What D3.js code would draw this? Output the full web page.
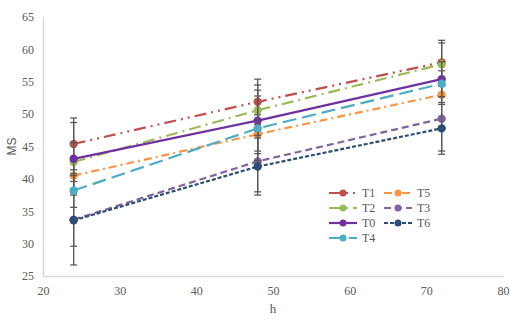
<!DOCTYPE html>
<html>
<head>
<meta charset="utf-8">
<script src="https://cdn.jsdelivr.net/npm/d3@7"></script>
<style>
  body { margin: 0; background: #fff; }
  svg { display: block; }
</style>
</head>
<body>
<div id="chart"></div>
<script>
const hours = [24, 48, 72];
const seriesNames = ["T1", "T5", "T2", "T3", "T0", "T6", "T4"];
const T1 = [45.4, 51.9, 58.0];
const T5 = [40.5, 46.9, 53.0];
const T2 = [42.6, 50.6, 57.7];
const T3 = [33.7, 42.7, 49.3];
const T0 = [43.1, 49.0, 55.4];
const T6 = [33.6, 41.9, 47.8];
const T4 = [38.2, 47.8, 54.7];
const T1err = [4.0, 3.5, 3.4];
const T5err = [2.0, 3.0, 1.5];
const T2err = [3.0, 3.9, 3.3];
const T3err = [4.1, 4.7, 5.0];
const T0err = [5.6, 4.7, 2.7];
const T6err = [6.9, 4.4, 4.0];
const T4err = [2.6, 5.0, 2.0];
const xTicks = [20, 30, 40, 50, 60, 70, 80];
const yTicks = [25, 30, 35, 40, 45, 50, 55, 60, 65];

const values = {T1, T5, T2, T3, T0, T6, T4};
const errs = {T1: T1err, T5: T5err, T2: T2err, T3: T3err, T0: T0err, T6: T6err, T4: T4err};
const colors = {T1: "#C0504D", T5: "#F79646", T2: "#9BBB59", T3: "#8064A2", T0: "#7030A0", T6: "#2C4D75", T4: "#4BACC6"};
const dashes = {T1: "12,5,2,5,2,5", T5: "8,4,2,4", T2: "12,5,2,5", T3: "7,4", T0: null, T6: "4,2", T4: "14,6"};

const width = 525, height = 322;
const margin = {top: 17, right: 22, bottom: 46, left: 43};

const svg = d3.select("#chart").append("svg")
    .attr("width", width)
    .attr("height", height);

const x = d3.scaleLinear().domain([20, 80]).range([margin.left, width - margin.right]);
const y = d3.scaleLinear().domain([25, 65]).range([height - margin.bottom, margin.top]);

const serif = "'Liberation Serif', 'Times New Roman', serif";

// axes
svg.append("g")
    .attr("transform", `translate(0,${y(25)})`)
    .call(d3.axisBottom(x).tickValues(xTicks).tickSize(0).tickPadding(10))
    .call(g => g.select(".domain").attr("stroke", "#D9D9D9").attr("stroke-width", 1.5))
    .call(g => g.selectAll("text").attr("fill", "#595959").style("font", `12px ${serif}`));

svg.append("g")
    .attr("transform", `translate(${x(20)},0)`)
    .call(d3.axisLeft(y).tickValues(yTicks).tickSize(0).tickPadding(9))
    .call(g => g.select(".domain").attr("stroke", "#D9D9D9").attr("stroke-width", 1.5))
    .call(g => g.selectAll("text").attr("fill", "#595959").style("font", `12px ${serif}`));

svg.append("text")
    .attr("transform", `translate(16,${y(45)}) rotate(-90)`)
    .attr("text-anchor", "middle")
    .attr("fill", "#595959")
    .style("font", "12px 'Liberation Sans', Arial, sans-serif")
    .text("MS");

svg.append("text")
    .attr("x", x(50))
    .attr("y", 313)
    .attr("text-anchor", "middle")
    .attr("fill", "#595959")
    .style("font", `13px ${serif}`)
    .text("h");

const line = d3.line().x(d => x(d[0])).y(d => y(d[1]));

seriesNames.forEach(name => {
    const pts = hours.map((h, i) => [h, values[name][i], errs[name][i]]);
    const g = svg.append("g");
    g.append("path")
        .attr("d", line(pts))
        .attr("fill", "none")
        .attr("stroke", colors[name])
        .attr("stroke-width", 2.2)
        .attr("stroke-dasharray", dashes[name]);
    pts.forEach(p => {
        g.append("line")
            .attr("x1", x(p[0])).attr("x2", x(p[0]))
            .attr("y1", y(p[1] - p[2])).attr("y2", y(p[1] + p[2]))
            .attr("stroke", "#595959").attr("stroke-width", 1.3);
        [p[1] - p[2], p[1] + p[2]].forEach(v => {
            g.append("line")
                .attr("x1", x(p[0]) - 3.5).attr("x2", x(p[0]) + 3.5)
                .attr("y1", y(v)).attr("y2", y(v))
                .attr("stroke", "#595959").attr("stroke-width", 1.3);
        });
    });
    g.selectAll("circle").data(pts).join("circle")
        .attr("cx", d => x(d[0]))
        .attr("cy", d => y(d[1]))
        .attr("r", 4.2)
        .attr("fill", colors[name]);
});

// legend, two columns filled row by row
const legend = svg.append("g");
seriesNames.forEach((name, i) => {
    const col = i % 2, row = Math.floor(i / 2);
    const lx = 329 + col * 55, ly = 193 + row * 15;
    const item = legend.append("g").attr("transform", `translate(${lx},${ly})`);
    item.append("line")
        .attr("x1", 0).attr("x2", 28)
        .attr("stroke", colors[name])
        .attr("stroke-width", 2.2)
        .attr("stroke-dasharray", dashes[name]);
    item.append("circle").attr("cx", 14).attr("r", 3.5).attr("fill", colors[name]);
    item.append("text")
        .attr("x", 33).attr("y", 4)
        .attr("fill", "#595959")
        .style("font", `12px ${serif}`)
        .text(name);
});
</script>
</body>
</html>
